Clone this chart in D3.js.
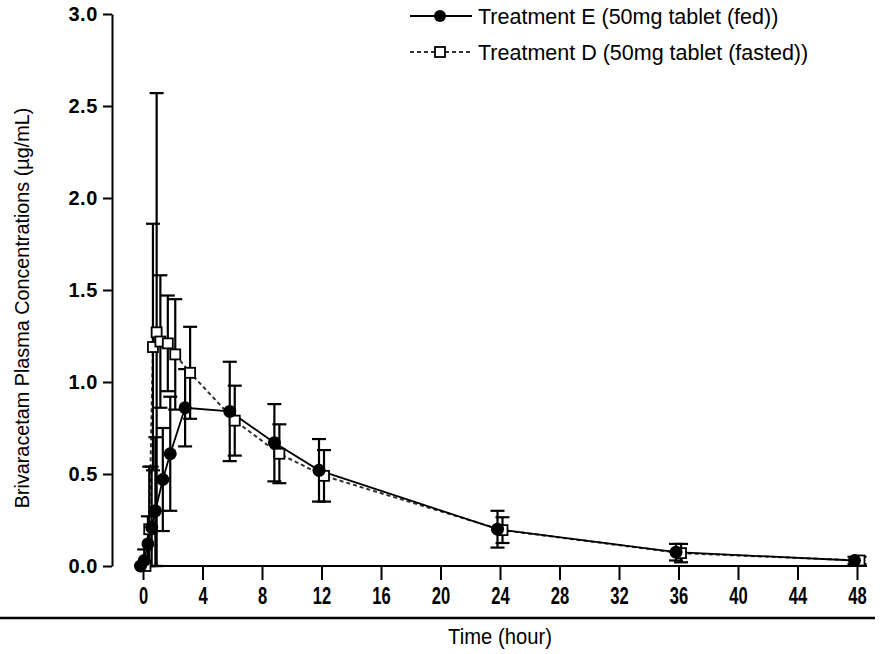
<!DOCTYPE html>
<html>
<head>
<meta charset="utf-8">
<script src="https://cdn.jsdelivr.net/npm/d3@7"></script>
<style>
  html, body { margin: 0; padding: 0; background: #fff; }
  svg { display: block; font-family: "Liberation Sans", Arial, sans-serif; }
</style>
</head>
<body>
<svg id="chart" width="891" height="654"></svg>
<script>
// sampling times (hours)
const times = [0, 0.25, 0.5, 0.75, 1, 1.5, 2, 3, 6, 9, 12, 24, 36, 48];
// Treatment E (fed): mean and SD
const fedMean = [0, 0.03, 0.12, 0.21, 0.30, 0.47, 0.61, 0.86, 0.84, 0.67, 0.52, 0.20, 0.075, 0.03];
const fedSD   = [0, 0.06, 0.15, 0.33, 0.40, 0.28, 0.31, 0.21, 0.27, 0.21, 0.17, 0.10, 0.045, 0.02];
// Treatment D (fasted): mean and SD
const fastedMean = [0, 0.20, 1.19, 1.27, 1.22, 1.21, 1.15, 1.05, 0.79, 0.61, 0.49, 0.195, 0.07, 0.03];
const fastedSD   = [0, 0.34, 0.67, 1.30, 0.36, 0.26, 0.30, 0.25, 0.19, 0.16, 0.14, 0.07, 0.05, 0.02];

const xTicks = [0, 4, 8, 12, 16, 20, 24, 28, 32, 36, 40, 44, 48];
const yTicks = [0, 0.5, 1.0, 1.5, 2.0, 2.5, 3.0];

const seriesNames = ["Treatment E (50mg tablet (fed))", "Treatment D (50mg tablet (fasted))"];

const width = 891, height = 654,
  margin = { left: 112, top: 14, bottom: 88, right: 34 };

const svg = d3.select("#chart");

const x = d3.scaleLinear().domain([0, 48]).range([143, 857]);
const y = d3.scaleLinear().domain([0, 3]).range([height - margin.bottom, margin.top]);

const fed = times.map((t, i) => ({ t, m: fedMean[i], sd: fedSD[i] }));
const fasted = times.map((t, i) => ({ t, m: fastedMean[i], sd: fastedSD[i] }));

// y axis
svg.append("g")
  .attr("transform", `translate(${margin.left},0)`)
  .call(d3.axisLeft(y).tickValues(yTicks).tickFormat(d3.format(".1f")).tickSize(9).tickSizeOuter(0).tickPadding(5))
  .call(g => g.selectAll("path, line").attr("stroke", "#000").attr("stroke-width", 2))
  .call(g => g.selectAll("text").attr("font-size", 20).attr("font-weight", "bold").attr("fill", "#000")
    .attr("letter-spacing", 0.6));

// x axis
svg.append("g")
  .attr("transform", `translate(0,${y(0)})`)
  .call(d3.axisBottom(x).tickValues(xTicks).tickSize(14).tickSizeOuter(0).tickPadding(8))
  .call(g => g.select(".domain").attr("d", `M${x(0) - 3},0H${x(48) + 10}`))
  .call(g => g.selectAll("path, line").attr("stroke", "#000").attr("stroke-width", 2))
  .call(g => g.selectAll("text").style("font-size", "23px").style("font-weight", "bold").attr("fill", "#000")
    .attr("transform", "scale(0.72,1)"));

// separator and x title
svg.append("line")
  .attr("x1", 0).attr("x2", 875)
  .attr("y1", 618).attr("y2", 618)
  .attr("stroke", "#000").attr("stroke-width", 2.5);

svg.append("text")
  .attr("transform", "translate(500,644) scale(0.92,1)")
  .attr("text-anchor", "middle")
  .attr("font-size", 22)
  .text("Time (hour)");

// y title
svg.append("text")
  .attr("transform", `translate(29,${(y(0) + y(3)) / 2 + 18}) rotate(-90)`)
  .attr("text-anchor", "middle")
  .attr("font-size", 19.8)
  .text("Brivaracetam Plasma Concentrations (µg/mL)");

const dodge = { fed: -2.5, fasted: 2.5 };

const line = off => d3.line().x(d => x(d.t) + off).y(d => y(d.m));

// lines
svg.append("path")
  .datum(fasted)
  .attr("fill", "none").attr("stroke", "#333").attr("stroke-width", 2)
  .attr("stroke-dasharray", "4,3")
  .attr("d", line(dodge.fasted));

svg.append("path")
  .datum(fed)
  .attr("fill", "none").attr("stroke", "#000").attr("stroke-width", 1.8)
  .attr("d", line(dodge.fed));

// error bars
const errorBars = (data, off) => {
  const g = svg.append("g").attr("stroke", "#000").attr("stroke-width", 2.2).attr("fill", "none");
  const d = data.filter(d => d.sd > 0);
  g.selectAll("line.v").data(d).join("line").attr("class", "v")
    .attr("x1", d => x(d.t) + off).attr("x2", d => x(d.t) + off)
    .attr("y1", d => y(d.m + d.sd)).attr("y2", d => y(Math.max(0, d.m - d.sd)));
  g.selectAll("line.top").data(d).join("line").attr("class", "top")
    .attr("x1", d => x(d.t) + off - 7).attr("x2", d => x(d.t) + off + 7)
    .attr("y1", d => y(d.m + d.sd)).attr("y2", d => y(d.m + d.sd));
  g.selectAll("line.bot").data(d).join("line").attr("class", "bot")
    .attr("x1", d => x(d.t) + off - 7).attr("x2", d => x(d.t) + off + 7)
    .attr("y1", d => y(Math.max(0, d.m - d.sd))).attr("y2", d => y(Math.max(0, d.m - d.sd)));
};
errorBars(fasted, dodge.fasted);
errorBars(fed, dodge.fed);

// markers
svg.append("g")
  .selectAll("rect")
  .data(fasted)
  .join("rect")
  .attr("x", d => x(d.t) + dodge.fasted - 5)
  .attr("y", d => y(d.m) - 5)
  .attr("width", 10).attr("height", 10)
  .attr("fill", "#fff").attr("stroke", "#000").attr("stroke-width", 1.8);

svg.append("g")
  .selectAll("circle")
  .data(fed)
  .join("circle")
  .attr("cx", d => x(d.t) + dodge.fed)
  .attr("cy", d => y(d.m))
  .attr("r", 6.5)
  .attr("fill", "#000");

// legend
const legend = svg.append("g").attr("font-size", 21.5);
const lg1 = legend.append("g").attr("transform", "translate(410,16)");
lg1.append("line").attr("x1", 0).attr("x2", 62).attr("stroke", "#000").attr("stroke-width", 2.2);
lg1.append("circle").attr("cx", 30).attr("r", 6).attr("fill", "#000");
lg1.append("text").attr("x", 68).attr("dy", "0.35em").text(seriesNames[0]);

const lg2 = legend.append("g").attr("transform", "translate(410,52)");
lg2.append("line").attr("x1", 0).attr("x2", 62).attr("stroke", "#333").attr("stroke-width", 2).attr("stroke-dasharray", "4,3");
lg2.append("rect").attr("x", 25).attr("y", -5).attr("width", 10).attr("height", 10)
  .attr("fill", "#fff").attr("stroke", "#000").attr("stroke-width", 1.8);
lg2.append("text").attr("x", 68).attr("dy", "0.35em").text(seriesNames[1]);
</script>
</body>
</html>
